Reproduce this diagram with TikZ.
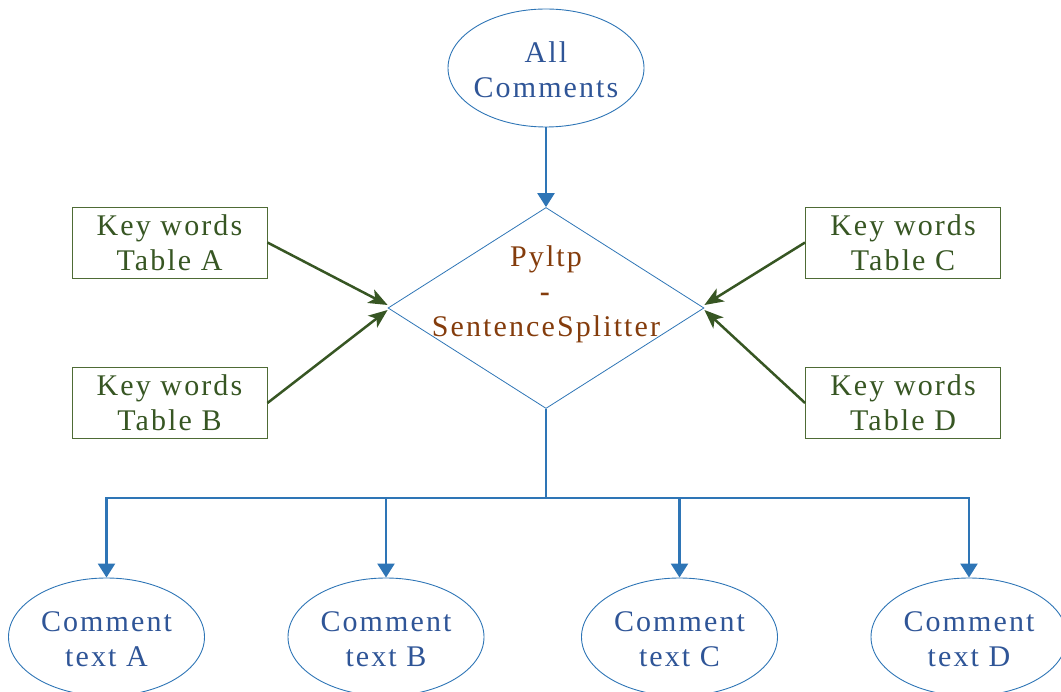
\documentclass[tikz,border=0pt]{standalone}
\usepackage{fontspec}
\setmainfont{Liberation Serif}[LetterSpace=7]
\usetikzlibrary{shapes.geometric,arrows.meta}
\definecolor{tblue}{HTML}{2F5597}
\definecolor{lblue}{HTML}{2E75B6}
\definecolor{tbrown}{HTML}{843C0C}
\definecolor{tgreen}{HTML}{375623}
\definecolor{bgreen}{HTML}{4E6B35}
\begin{document}
\begin{tikzpicture}[x=1pt,y=-1pt,
  txt/.style={font=\fontsize{30}{35}\selectfont, align=center, inner sep=0pt},
  ell/.style={draw=lblue, line width=0.9pt, ellipse, minimum width=196pt, minimum height=118pt, inner sep=0pt},
  dia/.style={draw=lblue, line width=0.8pt, diamond, minimum width=316pt, minimum height=201pt, inner sep=0pt},
  kbox/.style={txt, text=tgreen, draw=bgreen, line width=0.9pt, minimum width=195pt, minimum height=71pt},
  barrow/.style={draw=lblue, line width=2.5pt, -{Triangle[width=17pt,length=14pt]}},
  bline/.style={draw=lblue, line width=2.5pt},
  garrow/.style={draw=tgreen, line width=2.5pt, -{Stealth[length=19pt,width=15pt,inset=5pt]}}
]
\useasboundingbox (0,0) rectangle (1061,692);

% top ellipse
\node[ell] (all) at (546,68) {};
\node[txt, text=tblue] (allt) at (546,70) {All\\Comments};

% diamond
\node[dia] (dia) at (546,308) {};
\node[txt, text=tbrown] (diat) at (546,294) {Pyltp\\\textbf{-}\\SentenceSplitter};

% key word tables
\node[kbox] (ka) at (169.5,242.5) {Key words\\Table A};
\node[kbox] (kb) at (169.5,403) {Key words\\Table B};
\node[kbox] (kc) at (903,242.5) {Key words\\Table C};
\node[kbox] (kd) at (903,403) {Key words\\Table D};

% bottom ellipses
\node[ell] (ca) at (106.5,637) {};
\node[ell] (cb) at (386,637) {};
\node[ell] (cc) at (679.5,637) {};
\node[ell] (cd) at (969,637) {};
\node[txt, text=tblue] (cat) at (106.5,639) {Comment\\text A};
\node[txt, text=tblue] (cbt) at (386,639) {Comment\\text B};
\node[txt, text=tblue] (cct) at (679.5,639) {Comment\\text C};
\node[txt, text=tblue] (cdt) at (969,639) {Comment\\text D};

\coordinate (bus) at (546,498);

% connectors
\draw[barrow] (all.south) -- (dia.north);
\draw[garrow] (ka.east) -- ([yshift=3pt]dia.west);
\draw[garrow] (kb.east) -- ([yshift=-2pt]dia.west);
\draw[garrow] (kc.west) -- ([yshift=3pt]dia.east);
\draw[garrow] (kd.west) -- ([yshift=-2pt]dia.east);

\draw[bline] (dia.south) -- (bus);
\draw[barrow] (bus) -| (ca.north);
\draw[barrow] (bus) -| (cb.north);
\draw[barrow] (bus) -| (cc.north);
\draw[barrow] (bus) -| (cd.north);
\end{tikzpicture}
\end{document}
